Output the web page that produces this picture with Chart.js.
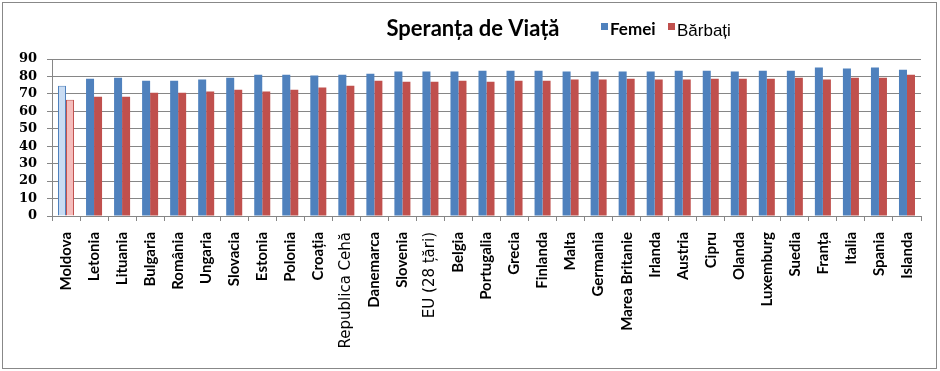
<!DOCTYPE html>
<html>
<head>
<meta charset="utf-8">
<script src="https://cdn.jsdelivr.net/npm/chart.js@4/dist/chart.umd.min.js"></script>
<style>
  body { margin: 0; background: #fff; }
  #wrap { position: relative; width: 940px; height: 371px; }
</style>
</head>
<body>
<div id="wrap"><canvas id="chart" width="940" height="371"></canvas></div>
<script>
// data
const categories = ['Moldova', 'Letonia', 'Lituania', 'Bulgaria', 'România', 'Ungaria', 'Slovacia',
    'Estonia', 'Polonia', 'Croația', 'Republica Cehă', 'Danemarca', 'Slovenia', 'EU (28 țări)',
    'Belgia', 'Portugalia', 'Grecia', 'Finlanda', 'Malta', 'Germania', 'Marea Britanie', 'Irlanda',
    'Austria', 'Cipru', 'Olanda', 'Luxemburg', 'Suedia', 'Franța', 'Italia', 'Spania', 'Islanda'];
const femei = [74.7, 78.7, 79.3, 77.6, 77.6, 78.2, 79.3, 81.0, 81.0, 80.5, 81.0, 81.6, 82.8, 82.8,
    82.8, 83.3, 83.3, 83.3, 82.8, 82.8, 82.8, 82.8, 83.3, 83.3, 82.8, 83.3, 83.3, 85.1, 84.5, 85.1, 83.9];
const barbati = [66.7, 68.4, 68.4, 70.7, 70.7, 71.3, 72.4, 71.3, 72.4, 73.6, 74.7, 77.6, 77.0, 77.0,
    77.6, 77.0, 77.6, 77.6, 78.2, 78.2, 78.7, 78.2, 78.2, 78.7, 78.7, 78.7, 79.3, 78.2, 79.3, 79.3, 81.0];
const seriesNames = ['Femei', 'Bărbați'];
const yMax = 90;
const yStep = 10;

const thinLabels = ['Republica Cehă', 'EU (28 țări)'];
const blue = '#4F81BD';
const red = '#C0504D';

// title, legend and frame drawn by hand so they share one line like the original
const decor = {
    id: 'decor',
    beforeDraw(chart) {
        const c = chart.ctx;
        c.save();
        c.fillStyle = '#fff';
        c.fillRect(0, 0, chart.width, chart.height);
        c.strokeStyle = '#888';
        c.lineWidth = 1;
        c.strokeRect(2.5, 2.5, 934, 366);
        c.restore();
    },
    afterDraw(chart) {
        const c = chart.ctx;
        c.save();
        c.fillStyle = '#000';
        c.textBaseline = 'alphabetic';
        c.textAlign = 'center';
        c.font = 'bold 22px Lato';
        c.fillText('Speranța de Viață', 473, 36);

        c.textAlign = 'left';
        c.fillStyle = blue;
        c.fillRect(601, 23, 7, 7);
        c.fillStyle = '#000';
        c.font = 'bold 17px Lato';
        c.fillText(chart.data.datasets[0].label, 610, 35);

        c.fillStyle = red;
        c.fillRect(668, 23, 7, 7);
        c.fillStyle = '#000';
        c.font = '17px "Liberation Sans"';
        c.fillText(chart.data.datasets[1].label, 677, 36);
        c.restore();
    }
};

new Chart(document.getElementById('chart'), {
    type: 'bar',
    data: {
        labels: categories,
        datasets: [{
            label: seriesNames[0],
            data: femei,
            backgroundColor: ctx => ctx.dataIndex === 0 ? '#C9DCF3' : blue,
            borderColor: blue,
            borderWidth: ctx => ctx.dataIndex === 0 ? 1 : 0,
        }, {
            label: seriesNames[1],
            data: barbati,
            backgroundColor: ctx => ctx.dataIndex === 0 ? '#F5BDBC' : red,
            borderColor: red,
            borderWidth: ctx => ctx.dataIndex === 0 ? 1 : 0,
        }]
    },
    options: {
        responsive: false,
        animation: false,
        layout: { padding: { left: 0, right: 19, top: 59, bottom: 0 } },
        datasets: {
            bar: { categoryPercentage: 16 / 28, barPercentage: 1 }
        },
        plugins: {
            legend: { display: false },
            title: { display: false },
            tooltip: { enabled: false }
        },
        scales: {
            x: {
                offset: true,
                afterFit: s => { s.height = 155; },
                grid: { offset: true, drawOnChartArea: false, tickLength: 5, color: '#868686' },
                border: { color: '#868686' },
                ticks: {
                    autoSkip: false,
                    minRotation: 90,
                    maxRotation: 90,
                    padding: 11,
                    color: '#000',
                    font: ctx => thinLabels.includes(categories[ctx.index])
                        ? { family: '"DejaVu Sans"', size: 15, weight: 'normal' }
                        : { family: 'Lato', size: 15, weight: 'bold' }
                }
            },
            y: {
                min: 0,
                max: yMax,
                afterFit: s => { s.width = 52; },
                grid: { color: '#868686', tickLength: 5 },
                border: { color: '#868686' },
                ticks: {
                    stepSize: yStep,
                    autoSkip: false,
                    padding: 10,
                    color: '#000',
                    font: { family: '"DejaVu Serif"', size: 13, weight: 'bold' }
                }
            }
        }
    },
    plugins: [decor]
});
</script>
</body>
</html>
